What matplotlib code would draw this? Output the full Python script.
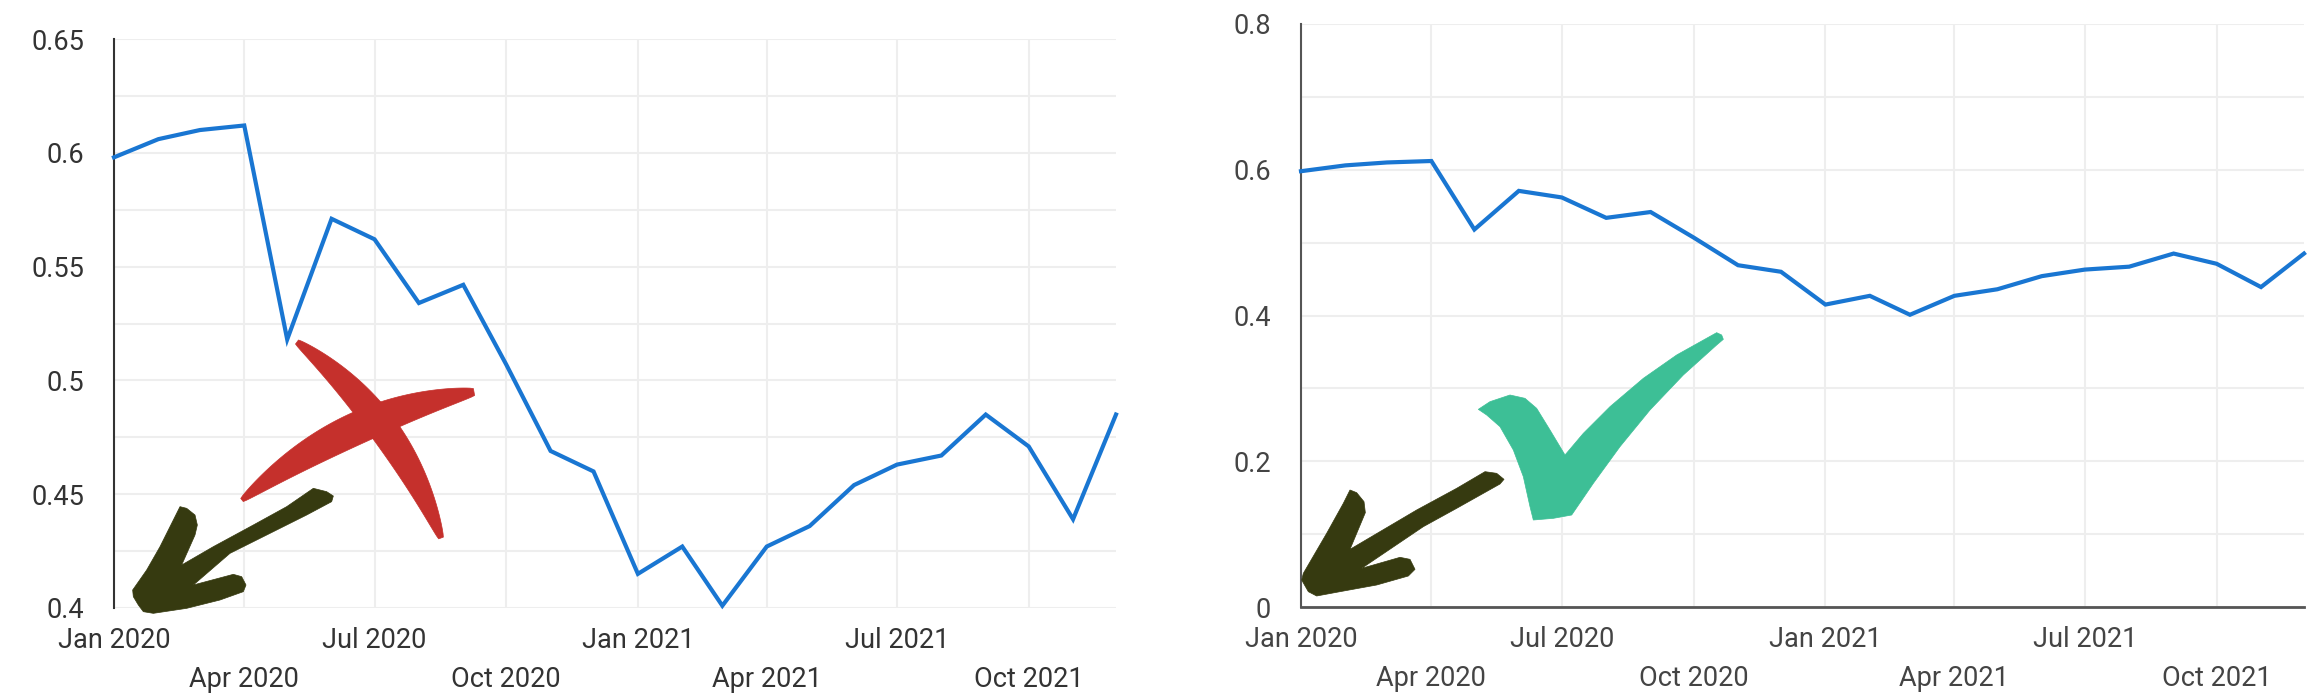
import numpy as np
import pandas as pd
import matplotlib
matplotlib.use("Agg")
import matplotlib.pyplot as plt
import matplotlib.dates as mdates
from matplotlib.patches import Polygon
from matplotlib.ticker import MultipleLocator, FixedLocator, FixedFormatter

# ---------------- data ----------------
months = pd.date_range("2020-01-01", "2021-12-01", freq="MS")
values = [0.598, 0.606, 0.610, 0.612, 0.518, 0.571, 0.562, 0.534, 0.542, 0.507, 0.469, 0.460,
          0.415, 0.427, 0.401, 0.427, 0.436, 0.454, 0.463, 0.467, 0.485, 0.471, 0.439, 0.485]

left_ylim = (0.4, 0.65)
left_yticks = [0.4, 0.45, 0.5, 0.55, 0.6, 0.65]
left_yticklabels = ["0.4", "0.45", "0.5", "0.55", "0.6", "0.65"]

right_ylim = (0.0, 0.8)
right_yticks = [0.0, 0.2, 0.4, 0.6, 0.8]
right_yticklabels = ["0", "0.2", "0.4", "0.6", "0.8"]

# ---------------- style ----------------
plt.rcParams['font.family'] = ['Roboto', 'DejaVu Sans']
W, H = 2315, 697
DPI = 100
fig = plt.figure(figsize=(W / DPI, H / DPI), dpi=DPI)

LINE_BLUE = "#1976d2"
GRID = "#eeeeee"
FS = 19.5


def box(l, r, t, b):
    return [l / W, 1 - b / H, (r - l) / W, (b - t) / H]


def style_axis(ax, ylim, yticks, ylabels, minor_y, spine_col, text_col, bottom_spine):
    ax.plot(months, values, color=LINE_BLUE, lw=3.0, solid_joinstyle="miter", clip_on=False, zorder=3)
    ax.set_xlim(months[0], months[-1])
    ax.set_ylim(*ylim)
    ax.yaxis.set_major_locator(FixedLocator(yticks))
    ax.yaxis.set_major_formatter(FixedFormatter(ylabels))
    ax.yaxis.set_minor_locator(MultipleLocator(minor_y))
    ax.xaxis.set_major_locator(mdates.MonthLocator(bymonth=[1, 7]))
    ax.xaxis.set_major_formatter(mdates.DateFormatter("%b %Y"))
    ax.xaxis.set_minor_locator(mdates.MonthLocator(bymonth=[4, 10]))
    ax.xaxis.set_minor_formatter(mdates.DateFormatter("%b %Y"))
    ax.tick_params(axis="x", which="major", length=0, pad=13.5, labelsize=FS, labelcolor=text_col)
    ax.tick_params(axis="x", which="minor", length=0, pad=41.5, labelsize=FS, labelcolor=text_col)
    ax.tick_params(axis="y", which="both", length=0, pad=21.5, labelsize=FS, labelcolor=text_col)
    ax.grid(True, which="both", color=GRID, lw=1.5, zorder=0)
    ax.set_axisbelow(True)
    for s in ["top", "right"]:
        ax.spines[s].set_visible(False)
    ax.spines["left"].set_color(spine_col)
    ax.spines["left"].set_linewidth(1.5)
    if bottom_spine:
        ax.spines["bottom"].set_color(spine_col)
        ax.spines["bottom"].set_linewidth(2.0)
    else:
        ax.spines["bottom"].set_visible(False)


ax1 = fig.add_axes(box(114, 1116, 39, 608))
style_axis(ax1, left_ylim, left_yticks, left_yticklabels, 0.025, "#333333", "#333333", False)

ax2 = fig.add_axes(box(1301, 2304, 24, 607))
style_axis(ax2, right_ylim, right_yticks, right_yticklabels, 0.1, "#555555", "#444444", True)


# ---------------- hand-drawn decorations ----------------
def to_fig(pts):
    pts = np.asarray(pts, dtype=float)
    return np.column_stack([pts[:, 0] / W, 1 - pts[:, 1] / H])


def add_poly(pts, color):
    fig.add_artist(Polygon(to_fig(pts), closed=True, facecolor=color, edgecolor=color,
                           lw=0.5, joinstyle="round", transform=fig.transFigure, zorder=10))


def zoom_pts(pts, ox, oy, s=3.0):
    return [(x / s + ox, y / s + oy) for x, y in pts]


def stroke(p0, c, p2, w0, wmax, w1, color, power=0.8, n=80):
    p0, c, p2 = map(np.asarray, (p0, c, p2))
    t = np.linspace(0, 1, n)[:, None]
    pts = (1 - t) ** 2 * p0 + 2 * (1 - t) * t * c + t ** 2 * p2
    d = 2 * (1 - t) * (c - p0) + 2 * t * (p2 - c)
    nrm = np.column_stack([-d[:, 1], d[:, 0]])
    nrm /= np.linalg.norm(nrm, axis=1)[:, None]
    tt = t[:, 0]
    w = w0 + (w1 - w0) * tt + (wmax - (w0 + w1) / 2) * np.sin(np.pi * tt) ** power
    left = pts + nrm * (w / 2)[:, None]
    right = pts - nrm * (w / 2)[:, None]
    add_poly(np.vstack([left, right[::-1]]), color)


RED = "#c5302c"
OLIVE = "#363a10"
GREEN = "#3dbf96"

# red cross
stroke((297, 342), (397, 416), (441, 538), 5, 29, 5, RED)
stroke((242, 500), (348, 414), (474, 392), 4, 32, 7, RED)

# arrow outline (zoomed coordinates, 3x)
arrow_shape = [(580, 25), (620, 35), (640, 48), (635, 65), (560, 105), (450, 160), (330, 220),
               (220, 315), (340, 283), (365, 290), (378, 315), (370, 335), (300, 360),
               (200, 385), (100, 400), (70, 395), (55, 375), (40, 350), (38, 330), (80, 270),
               (120, 200), (160, 120), (180, 80), (200, 85), (225, 105), (232, 135), (225, 165),
               (185, 255), (280, 200), (400, 135), (500, 80)]
add_poly(zoom_pts(arrow_shape, 120, 480), OLIVE)

# right arrow
arrow_right = [(555, 455), (590, 460), (612, 478), (600, 492), (470, 565), (370, 620), (185, 745),
               (300, 712), (330, 718), (345, 748), (325, 768), (230, 795), (120, 815), (50, 828),
               (25, 815), (5, 780), (10, 760), (80, 640), (130, 550), (150, 510), (170, 518),
               (192, 545), (196, 578), (150, 688), (350, 570), (470, 505)]
add_poly(zoom_pts(arrow_right, 1300, 320), OLIVE)

# green check
check = [(25, 268), (60, 245), (120, 225), (165, 235), (200, 265), (240, 330), (285, 405),
         (340, 340), (420, 260), (520, 175), (620, 105), (740, 38), (755, 45), (760, 58),
         (740, 75), (640, 165), (540, 270), (450, 380), (370, 490), (305, 585), (250, 595),
         (190, 600), (180, 560), (160, 470), (130, 390), (90, 320), (50, 285)]
add_poly(zoom_pts(check, 1470, 320), GREEN)

fig.savefig("out.png", dpi=DPI)
